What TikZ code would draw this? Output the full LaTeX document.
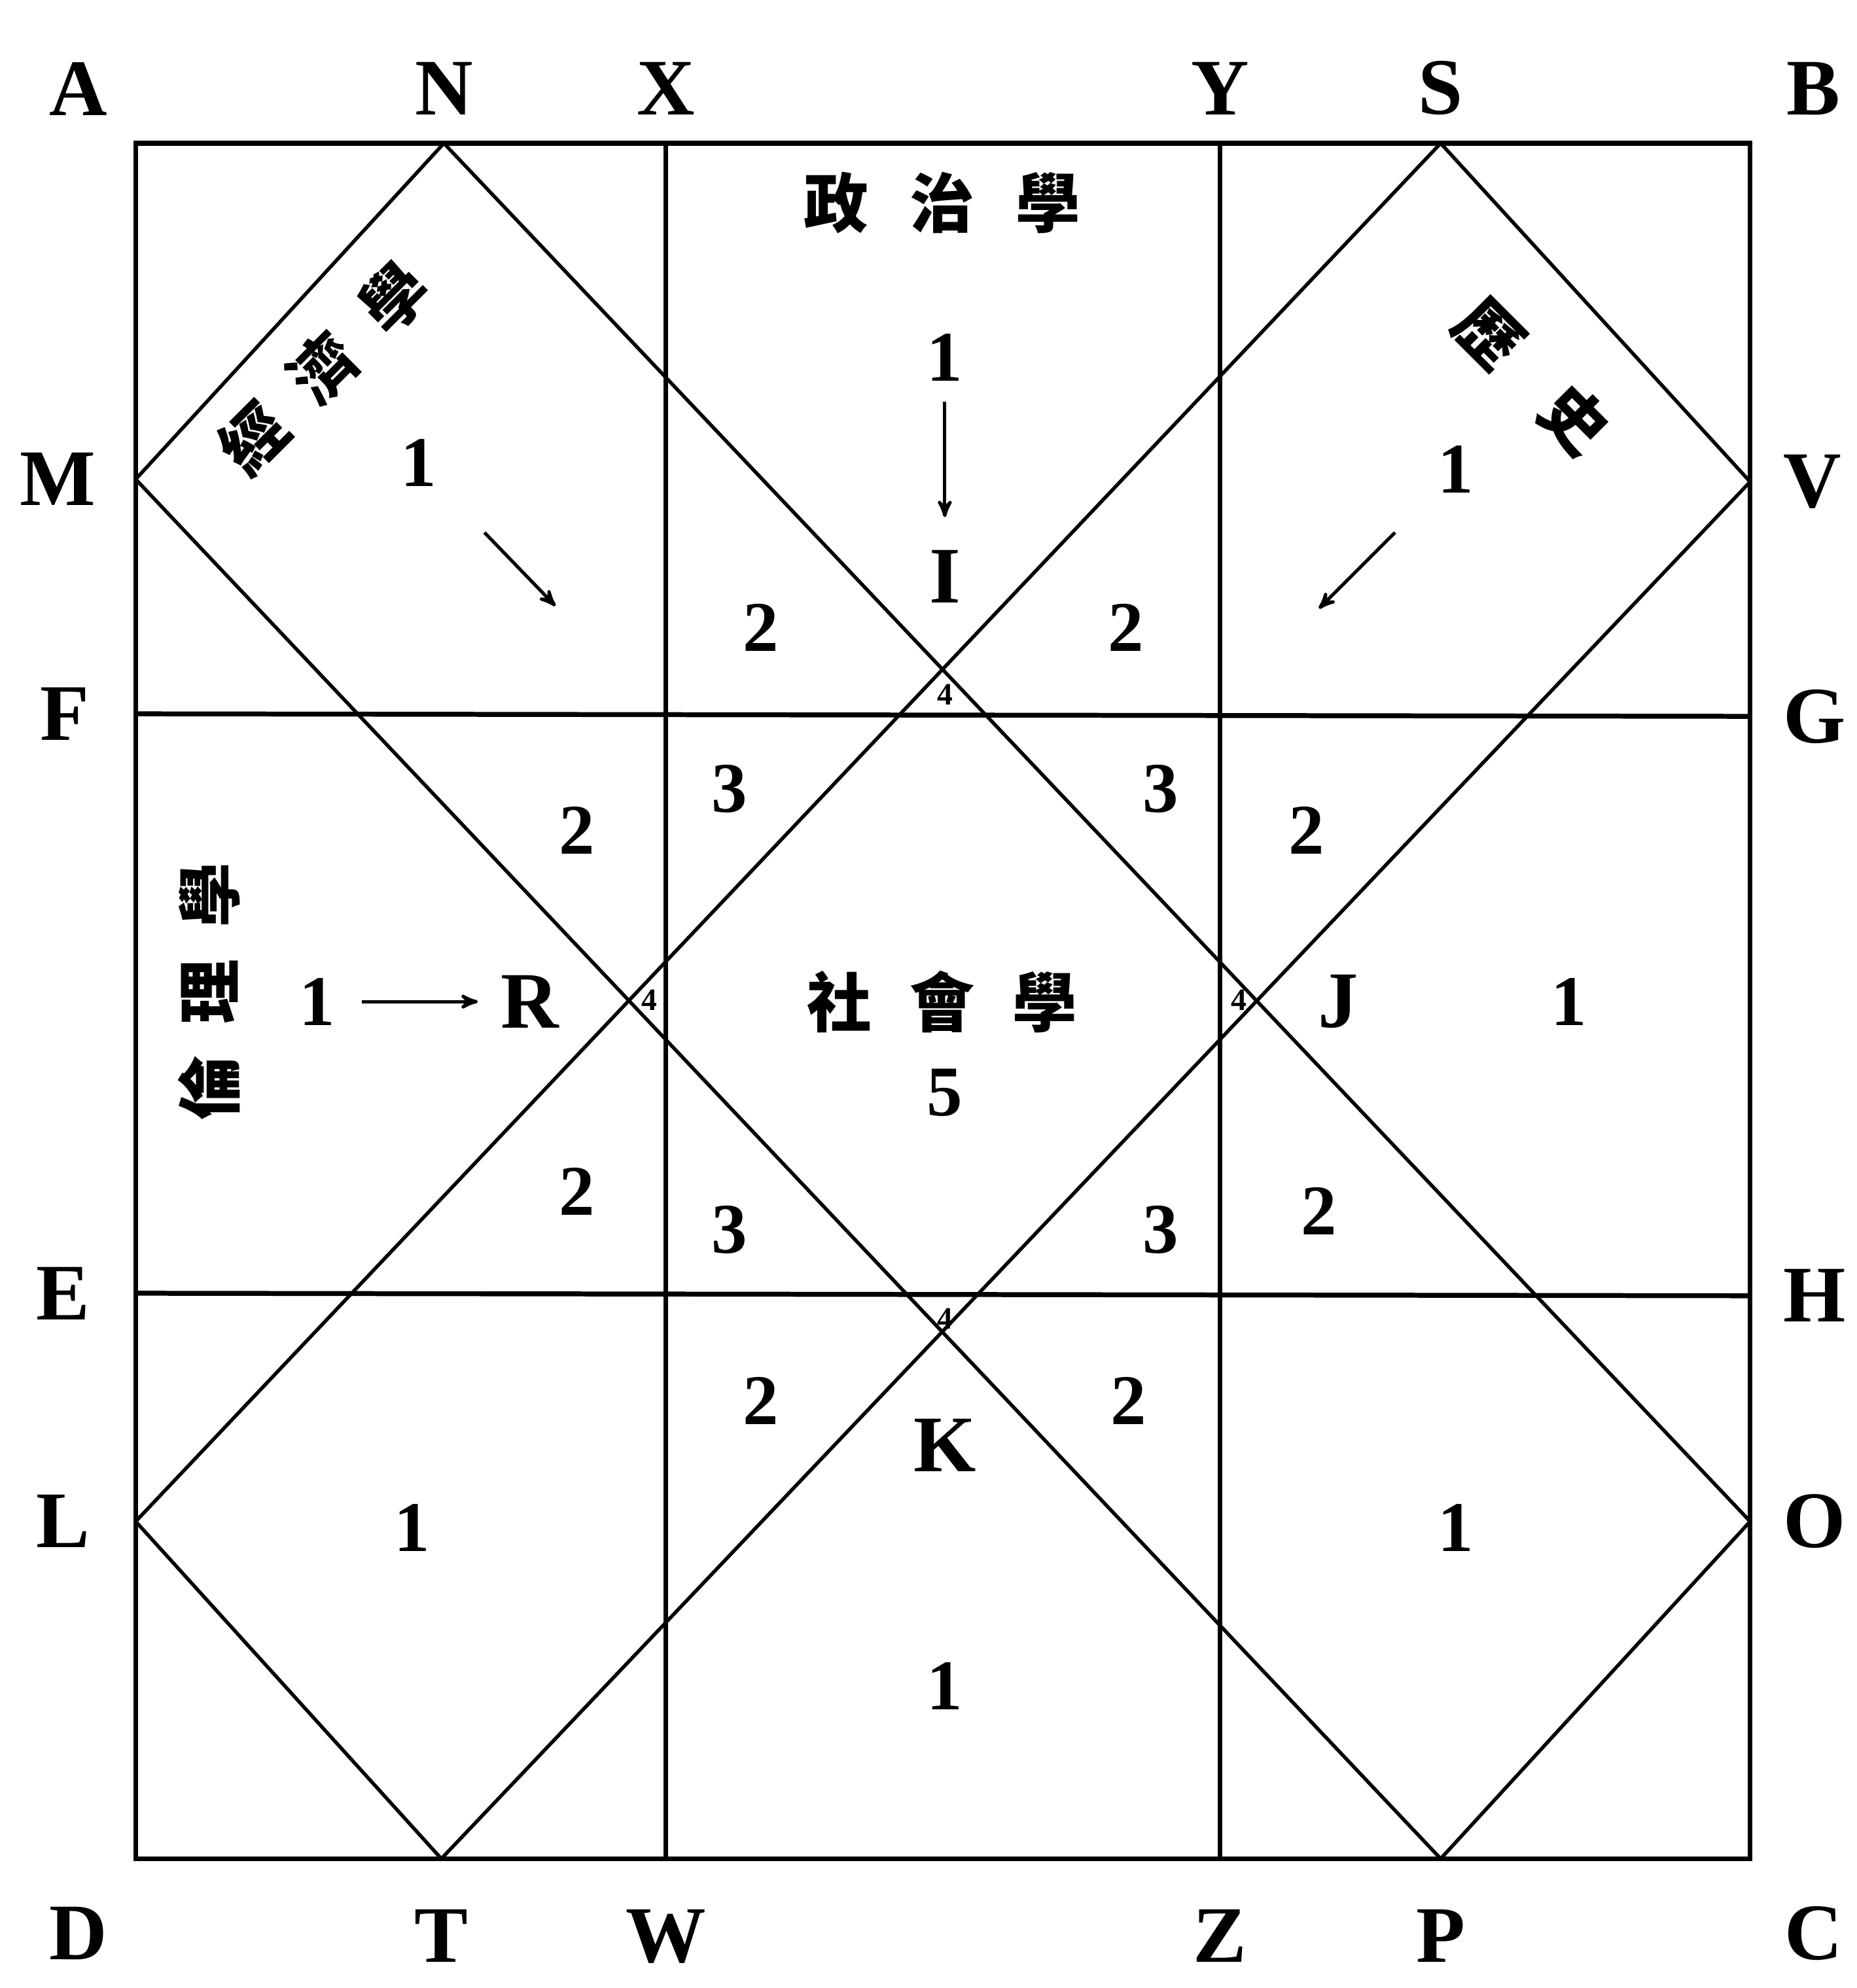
\documentclass[tikz,border=0pt]{standalone}
\usepackage{fontspec}
\newfontfamily\cjkfont{Noto Sans CJK TC}
\newfontfamily\labelfont{Liberation Serif}
\usetikzlibrary{arrows, positioning}

\begin{document}
\begin{tikzpicture}[x=0.02cm, y=-0.02cm, >=stealth', line width=1.6pt]

\tikzstyle{frame} = [line width=2.2pt]
\tikzstyle{diag} = [line width=1.6pt]
\tikzstyle{letter} = [font=\fontsize{36}{40}\selectfont\labelfont\bfseries, inner sep=0pt]
\tikzstyle{num} = [font=\fontsize{32}{36}\selectfont\labelfont\bfseries, inner sep=0pt]
\tikzstyle{tiny} = [font=\fontsize{14}{16}\selectfont\labelfont\bfseries, inner sep=0pt]
\tikzstyle{subject} = [font=\fontsize{29}{34}\selectfont\cjkfont\bfseries, inner sep=0pt]
\tikzstyle{flow} = [->, line width=1.5pt]

\useasboundingbox (0,0) rectangle (1464,1568);

% points on the frame
\coordinate (A) at (107,113);
\coordinate (B) at (1380,113);
\coordinate (C) at (1380,1466);
\coordinate (D) at (107,1466);
\coordinate (N) at (350,113);
\coordinate (X) at (525,113);
\coordinate (Y) at (962,113);
\coordinate (S) at (1136,113);
\coordinate (T) at (348,1466);
\coordinate (W) at (525,1466);
\coordinate (Z) at (962,1466);
\coordinate (P) at (1136,1466);
\coordinate (M) at (107,378);
\coordinate (F) at (107,563);
\coordinate (E) at (107,1020);
\coordinate (L) at (107,1200);
\coordinate (V) at (1380,380);
\coordinate (G) at (1380,565);
\coordinate (H) at (1380,1022);
\coordinate (O) at (1380,1200);

\draw[frame] (A) rectangle (C);
\draw[frame] (X) -- (W);
\draw[frame] (Y) -- (Z);
\draw[frame] (F) -- (G);
\draw[frame] (E) -- (H);

\draw[diag] (M) -- (N);
\draw[diag] (S) -- (V);
\draw[diag] (O) -- (P);
\draw[diag] (T) -- (L);
\draw[diag] (N) -- (O);
\draw[diag] (M) -- (P);
\draw[diag] (S) -- (L);
\draw[diag] (V) -- (T);

% letters round the frame
\node (lA) [letter] at (62,70) {A};
\node (lB) [letter] at (1430,70) {B};
\node (lC) [letter] at (1430,1525) {C};
\node (lD) [letter] at (62,1525) {D};
\node (lN) [letter, above=0.42cm of N, anchor=south] {N};
\node (lX) [letter, above=0.42cm of X, anchor=south] {X};
\node (lY) [letter, above=0.42cm of Y, anchor=south] {Y};
\node (lS) [letter, above=0.42cm of S, anchor=south] {S};
\node (lT) [letter, below=0.78cm of T, anchor=north] {T};
\node (lW) [letter, below=0.78cm of W, anchor=north] {W};
\node (lZ) [letter, below=0.78cm of Z, anchor=north] {Z};
\node (lP) [letter, below=0.78cm of P, anchor=north] {P};
\node (lM) [letter, left=0.6cm of M] {M};
\node (lF) [letter, left=0.7cm of F] {F};
\node (lE) [letter, left=0.7cm of E] {E};
\node (lL) [letter, left=0.7cm of L] {L};
\node (lV) [letter, right=0.5cm of V] {V};
\node (lG) [letter, right=0.5cm of G] {G};
\node (lH) [letter, right=0.5cm of H] {H};
\node (lO) [letter, right=0.5cm of O] {O};

% inner points
\node (lI) [letter] at (745,455) {I};
\node (lR) [letter] at (418,790) {R};
\node (lJ) [letter] at (1055,790) {J};
\node (lK) [letter] at (745,1140) {K};

% subjects
\node (pol) [subject] at (743,160) {政\hspace{0.65cm}治\hspace{0.65cm}學};
\node (eco) [subject, rotate=45] at (255,290) {經\hspace{0.55cm}濟\hspace{0.55cm}學};
\node (his) [subject, rotate=-45] at (1208,297) {歷\hspace{0.9cm}史};
\node (eth) [subject, rotate=90] at (165,782) {倫\hspace{0.5cm}理\hspace{0.5cm}學};
\node (soc) [subject] at (743,790) {社\hspace{0.6cm}會\hspace{0.6cm}學};

% weights
\node (eco1) [num] at (330,365) {1};
\node (pol1) [num] at (745,282) {1};
\node (his1) [num] at (1148,370) {1};
\node (eth1) [num] at (250,790) {1};
\node (jr1) [num] at (1237,790) {1};
\node (ll1) [num] at (325,1205) {1};
\node (bt1) [num] at (745,1330) {1};
\node (oo1) [num] at (1148,1205) {1};
\node (soc5) [num] at (745,862) {5};

\node (t2a) [num] at (600,495) {2};
\node (t2b) [num] at (888,495) {2};
\node (t2c) [num] at (455,655) {2};
\node (t2d) [num] at (1030,655) {2};
\node (t2e) [num] at (455,940) {2};
\node (t2f) [num] at (1040,955) {2};
\node (t2g) [num] at (600,1105) {2};
\node (t2h) [num] at (890,1105) {2};

\node (t3a) [num] at (575,622) {3};
\node (t3b) [num] at (915,622) {3};
\node (t3c) [num] at (575,970) {3};
\node (t3d) [num] at (915,970) {3};

\node (t4a) [tiny] at (745,548) {4};
\node (t4b) [tiny] at (512,789) {4};
\node (t4c) [tiny] at (977,789) {4};
\node (t4d) [tiny] at (745,1040) {4};

% arrows
\coordinate (ecoTail) at (382,420);
\coordinate (ecoHead) at (438,478);
\coordinate (hisTail) at (1100,420);
\coordinate (hisHead) at (1040,480);
\draw[flow] (ecoTail) -- (ecoHead);
\draw[flow] (hisTail) -- (hisHead);
\draw[flow, shorten <=0.3cm, shorten >=0.5cm] (pol1) -- (lI);
\draw[flow, shorten <=0.4cm, shorten >=0.34cm] (eth1) -- (lR);

\end{tikzpicture}
\end{document}
